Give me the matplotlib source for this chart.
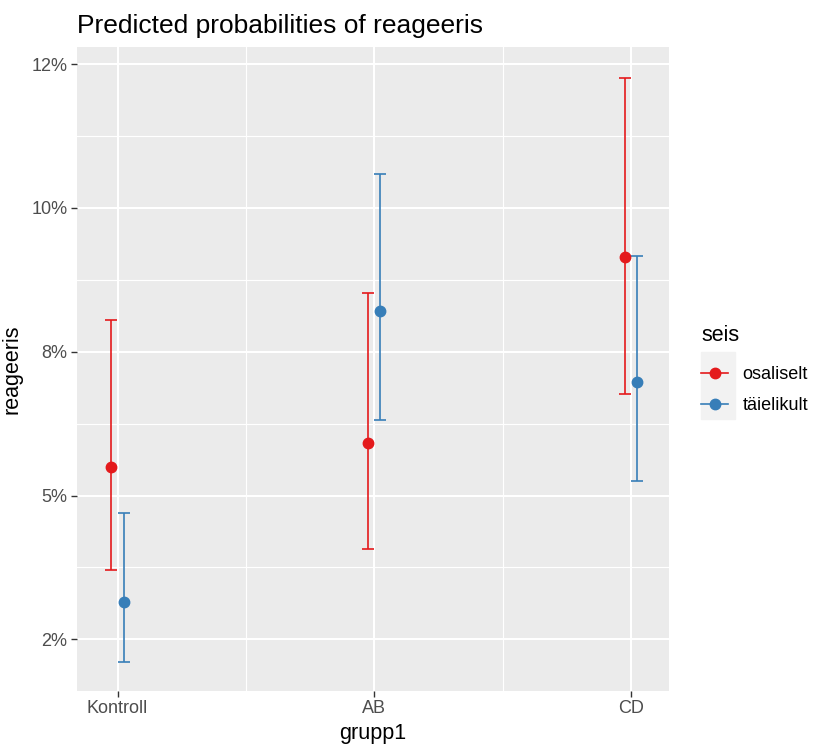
import matplotlib
matplotlib.use("Agg")
from matplotlib import pyplot as plt
from matplotlib.lines import Line2D
from matplotlib.patches import Rectangle
import numpy as np

plt.rcParams['font.family'] = ['Liberation Sans', 'DejaVu Sans']

grupp1 = ["Kontroll", "AB", "CD"]
seis = ["osaliselt", "täielikult"]
colors = ["#E41A1C", "#377EB8"]

# predicted probabilities with confidence interval (from the picture)
predicted = {
    "osaliselt": [0.0549, 0.0592, 0.0915],
    "täielikult": [0.0315, 0.0821, 0.0697],
}
conf_low = {
    "osaliselt": [0.0370, 0.0407, 0.0676],
    "täielikult": [0.0210, 0.0632, 0.0525],
}
conf_high = {
    "osaliselt": [0.0805, 0.0852, 0.1226],
    "täielikult": [0.0470, 0.1059, 0.0916],
}

y_breaks = [0.025, 0.05, 0.075, 0.10, 0.125]
y_labels = ["2%", "5%", "8%", "10%", "12%"]

W, H = 817, 747
fig = plt.figure(figsize=(W / 100, H / 100), dpi=100)
ax = fig.add_axes([77 / W, 1 - 690.7 / H, 592 / W, 643.7 / H])
ax.set_facecolor("#EBEBEB")

x = np.arange(1, len(grupp1) + 1)
dodge = [-0.024, 0.024]
for i, s in enumerate(seis):
    y = np.array(predicted[s])
    lo = np.array(conf_low[s])
    hi = np.array(conf_high[s])
    ax.errorbar(x + dodge[i], y, yerr=[y - lo, hi - y], fmt="o", color=colors[i],
                ms=7.5, elinewidth=1.2, capsize=4.6, capthick=1.2, zorder=3)

ax.set_xlim(0.842, 3.148)
ax.set_ylim(0.01607, 0.12796)
ax.set_xticks(x)
ax.set_xticklabels(grupp1)
ax.set_xticks([1.5, 2.5], minor=True)
ax.set_yticks(y_breaks)
ax.set_yticklabels(y_labels)
ax.set_yticks([0.0375, 0.0625, 0.0875, 0.1125], minor=True)

ax.grid(True, which="major", color="white", lw=1.5, zorder=0)
ax.grid(True, which="minor", color="white", lw=0.8, zorder=0)
ax.set_axisbelow(True)
for sp in ax.spines.values():
    sp.set_visible(False)
ax.tick_params(which="major", length=4, width=1, color="#333333",
               labelsize=13, labelcolor="#4D4D4D", pad=3)
ax.tick_params(which="minor", length=0)

ax.set_xlabel("grupp1", fontsize=15.5, labelpad=4)
ax.set_ylabel("reageeris", fontsize=15.5, labelpad=6)
ax.set_title("Predicted probabilities of reageeris", fontsize=19, loc="left", pad=10)

# legend: key background + point-and-line keys
fig.patches.append(Rectangle((700.7 / W, 1 - 419 / H), 34.3 / W, 67.3 / H,
                             transform=fig.transFigure, color="#F2F2F2", zorder=0))
handles = [Line2D([], [], color=c, marker="o", ms=7.5, lw=1.2) for c in colors]
leg = fig.legend(handles, seis, title="seis", loc="upper left",
                 bbox_to_anchor=(701 / W, 1 - 325 / H), frameon=False,
                 fontsize=13, title_fontsize=15.5, borderpad=0, borderaxespad=0,
                 handlelength=1.5, handletextpad=0.8, labelspacing=0.8)
leg._legend_box.align = "left"
leg._legend_box.sep = 14.4

fig.savefig("out.png", dpi=100)
